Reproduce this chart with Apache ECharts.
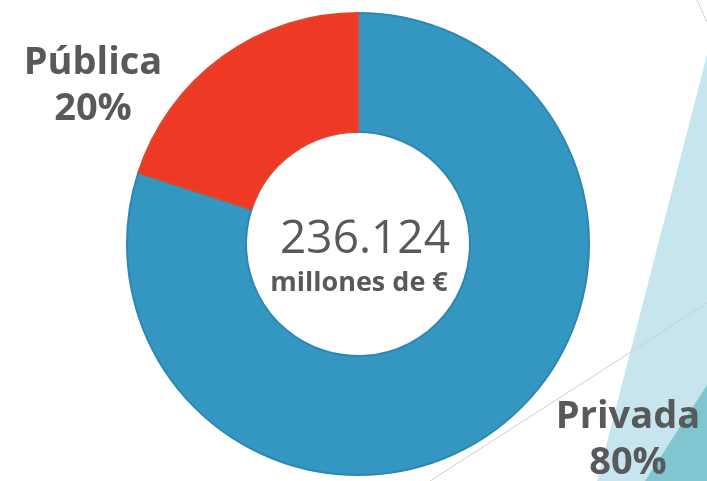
<!DOCTYPE html>
<html>
<head>
<meta charset="utf-8">
<script src="https://cdn.jsdelivr.net/npm/echarts@6/dist/echarts.min.js"></script>
<style>
html,body{margin:0;padding:0;background:#fff;}
#c{width:707px;height:481px;}
</style>
</head>
<body>
<div id="c"></div>
<script>
const categories = ['Privada', 'Pública'];
const values = [80, 20];
const totalLabel = '236.124';
const unitLabel = 'millones de €';
const colors = ['#3397c1', '#ee3a24'];
const labelPos = [[628, 440], [93, 86]];

const chart = echarts.init(document.getElementById('c'), null, {renderer: 'canvas'});
const FONT = '"Open Sans"';
chart.setOption({
  animation: false,
  backgroundColor: '#ffffff',
  graphic: [
    {type: 'polygon', z: -10, shape: {points: [[707, 55], [707, 481], [597, 481]]}, style: {fill: '#c7e5ee'}},
    {type: 'polygon', z: -9, shape: {points: [[707, 385], [707, 481], [645, 481]]}, style: {fill: '#7fc6d1'}},
    {type: 'line', z: -8, shape: {x1: 430, y1: 481, x2: 707, y2: 303}, style: {stroke: '#cfcfcf', lineWidth: 1}},
    {type: 'line', z: -8, shape: {x1: 697, y1: 0, x2: 707, y2: 22}, style: {stroke: '#cfcfcf', lineWidth: 1}},
    {type: 'text', x: 365, y: 240, z: 10, style: {text: totalLabel, fill: '#58595b', font: '500 46px ' + FONT, textAlign: 'center', textVerticalAlign: 'middle'}},
    {type: 'text', x: 359, y: 283, z: 10, style: {text: unitLabel, fill: '#58595b', font: '700 27px ' + FONT, textAlign: 'center', textVerticalAlign: 'middle'}}
  ],
  series: [{
    type: 'pie',
    center: [358, 244],
    radius: [112, 231],
    startAngle: 90,
    clockwise: true,
    silent: true,
    data: categories.map((name, i) => ({
      name: name,
      value: values[i],
      itemStyle: {color: colors[i], borderColor: i === 0 ? '#2c88b2' : '#e0452f', borderWidth: 2}
    })),
    label: {
      show: true,
      formatter: p => '{a|' + p.name + '}\n{a|' + p.value + '%}',
      rich: {a: {fontFamily: FONT, fontWeight: 700, fontSize: 38, color: '#58595b', lineHeight: 46, align: 'center'}}
    },
    labelLine: {show: false},
    labelLayout: p => ({x: labelPos[p.dataIndex][0], y: labelPos[p.dataIndex][1], align: 'center', verticalAlign: 'middle'})
  }]
});
</script>
</body>
</html>
